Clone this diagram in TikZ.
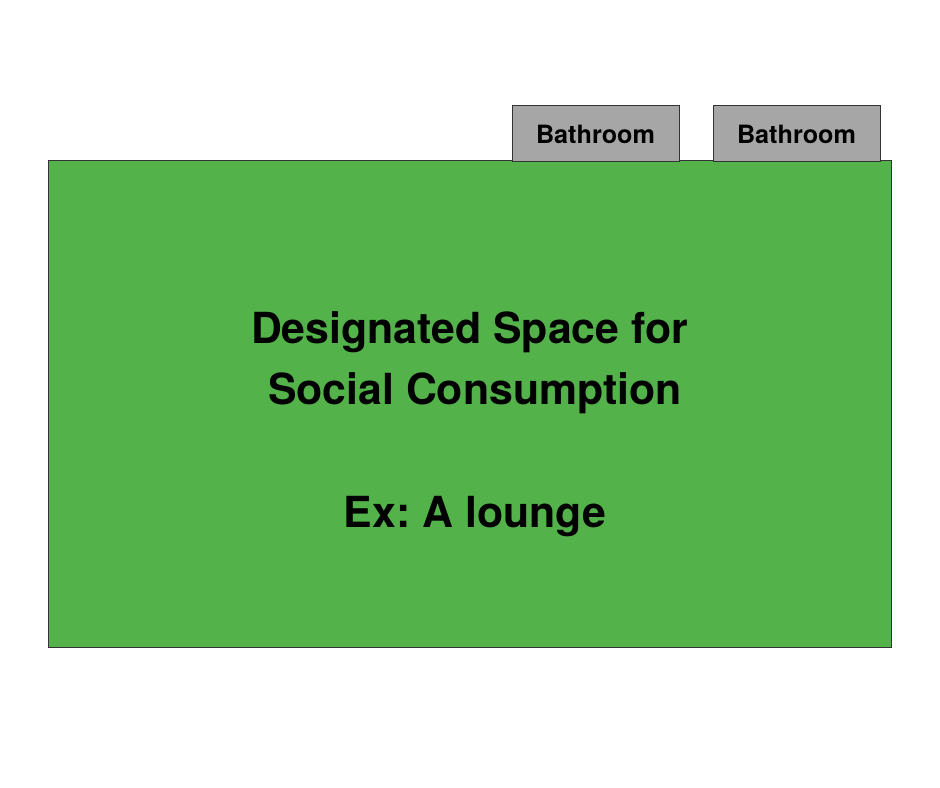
\documentclass[tikz,border=0pt]{standalone}
\usepackage{fontspec}
\setmainfont{TeX Gyre Heros}
\usepackage{tikz}
\frenchspacing

\definecolor{loungegreen}{HTML}{53B34A}
\definecolor{bathgray}{HTML}{A6A6A6}
\definecolor{wallline}{HTML}{333333}

\tikzset{
	room/.style={draw=wallline, line width=0.75pt, rectangle, inner sep=0pt},
	lounge/.style={room, fill=loungegreen, minimum width=632.25pt, minimum height=364.5pt},
	bath/.style={room, fill=bathgray, minimum width=125.25pt, minimum height=42pt,
		text height=15pt, text depth=0pt,
		font=\fontsize{18.9}{22}\selectfont\bfseries},
	bigtext/.style={anchor=base, inner sep=0pt, font=\fontsize{32.1}{38}\selectfont\bfseries}
}

\begin{document}
\begin{tikzpicture}[x=0.75pt, y=-0.75pt]
	\useasboundingbox (0,0) rectangle (940,788);

	%ROOMS

	\node[lounge] (lounge) at (469.5,404) {};
	\node[bath] (bathA) at (595.5,134) {Bathroom};
	\node[bath] (bathB) at (796.5,134) {Bathroom};


	%TEXT

	\node[bigtext] (titleA) at (469.5,344) {Designated Space for};
	\node[bigtext] (titleB) at (475,404) {Social Consumption};
	\node[bigtext] (example) at (475,527) {Ex: A lounge};
\end{tikzpicture}
\end{document}
